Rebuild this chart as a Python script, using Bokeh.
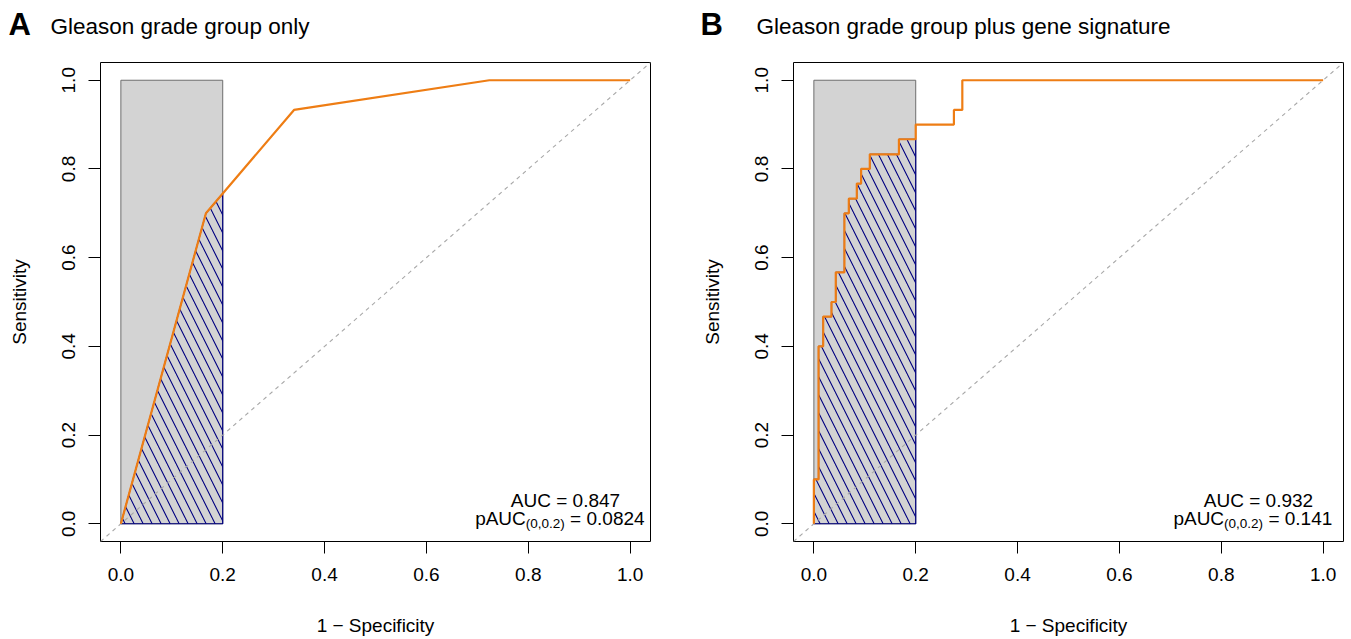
import numpy as np
from bokeh.plotting import figure
from bokeh.layouts import row, column
from bokeh.models import Label, FixedTicker, PrintfTickFormatter, Range1d
from bokeh.core.properties import value
from bokeh.embed import file_html
from bokeh.resources import INLINE

# ---------------- data ----------------
# Panel A: Gleason grade group only (ROC vertices: 1 - specificity, sensitivity)
fpr_a = [0.0, 0.167, 0.340, 0.7235, 1.0]
tpr_a = [0.0, 0.700, 0.933, 1.000, 1.0]

# Panel B: Gleason grade group plus gene signature (ROC vertices)
fpr_b = [0.0, 0.0, 0.0092, 0.0092, 0.0183, 0.0183, 0.0346, 0.0346, 0.043, 0.043,
         0.060, 0.060, 0.0686, 0.0686, 0.0843, 0.0843, 0.0928, 0.0928, 0.1098, 0.1098,
         0.167, 0.167, 0.2, 0.2, 0.275, 0.275, 0.2915, 0.2915, 1.0]
tpr_b = [0.0, 0.1, 0.1, 0.4, 0.4, 0.467, 0.467, 0.5, 0.5, 0.567,
         0.567, 0.7, 0.7, 0.733, 0.733, 0.767, 0.767, 0.8, 0.8, 0.833,
         0.833, 0.867, 0.867, 0.9, 0.9, 0.933, 0.933, 1.0, 1.0]

panel_letters = ["A", "B"]
panel_titles = ["Gleason grade group only", "Gleason grade group plus gene signature"]
auc_values = ["0.847", "0.932"]
pauc_values = ["0.0824", "0.141"]
pauc_limit = 0.2
tick_values = [0.0, 0.2, 0.4, 0.6, 0.8, 1.0]
tick_labels = ["0.0", "0.2", "0.4", "0.6", "0.8", "1.0"]

# ---------------- styling ----------------
FONT = "Liberation Sans"
ORANGE = "#EE7D14"
NAVY = "#000080"
GREY_FILL = "#D3D3D3"
GREY_LINE = "#6E6E6E"
DIAG = "#A8A8A8"
LO, HI = -0.04, 1.04
HEADER_H = 50
TOTAL_W = 1350

# Arial/Liberation Sans advance widths (per em)
ADV = {'p': .556, 'A': .667, 'U': .722, 'C': .722, '(': .333, ')': .333, ',': .278,
       '.': .278, ' ': .278, '=': .584}
def text_width(s, size):
    return sum(ADV.get(c, .556) for c in s) * size


def partial_polygon(fx, ty, xmax):
    xs, ys = [], []
    for i, (x, y) in enumerate(zip(fx, ty)):
        if x < xmax:
            xs.append(x); ys.append(y)
        else:
            if x == xmax:
                xs.append(x); ys.append(y)
            else:
                x0, y0 = fx[i - 1], ty[i - 1]
                xs.append(xmax); ys.append(y0 + (y - y0) * (xmax - x0) / (x - x0))
            break
    xs += [xmax, 0.0]
    ys += [0.0, 0.0]
    return xs, ys


def make_panel(fx, ty, auc, pauc, width, bl, br):
    p = figure(width=width, height=638 - HEADER_H, output_backend="svg",
               toolbar_location=None,
               x_range=Range1d(LO, HI), y_range=Range1d(LO, HI),
               min_border_left=bl, min_border_right=br,
               min_border_top=62 - HEADER_H, min_border_bottom=96)
    p.grid.visible = False
    p.outline_line_color = "black"
    p.outline_line_width = 1
    p.background_fill_color = "white"
    p.border_fill_color = "white"

    for ax in (p.xaxis[0], p.yaxis[0]):
        ax.ticker = FixedTicker(ticks=tick_values)
        ax.formatter = PrintfTickFormatter(format="%.1f")
        ax.axis_line_color = None
        ax.major_tick_line_color = "black"
        ax.major_tick_in = 0
        ax.major_tick_out = 12
        ax.minor_tick_line_color = None
        ax.major_label_text_font = FONT
        ax.major_label_text_font_size = "19px"
        ax.major_label_text_color = "black"
        ax.axis_label_text_font = FONT
        ax.axis_label_text_font_size = "19px"
        ax.axis_label_text_font_style = "normal"
        ax.axis_label_text_color = "black"
    p.xaxis.axis_label = "1 \u2212 Specificity"
    p.yaxis.axis_label = "Sensitivity"
    p.xaxis.major_label_standoff = 14
    p.xaxis.axis_label_standoff = 31
    p.yaxis.major_label_standoff = 13
    p.yaxis.major_label_orientation = "vertical"
    p.yaxis.axis_label_standoff = 30

    # max partial AUC box
    p.quad(left=0, right=pauc_limit, bottom=0, top=1, fill_color=GREY_FILL,
           line_color=GREY_LINE, line_width=1)
    # hatched partial AUC polygon
    px, py = partial_polygon(fx, ty, pauc_limit)
    p.patch(px, py, fill_color=None, fill_alpha=0, hatch_pattern="left_diagonal_line",
            hatch_color=NAVY, hatch_scale=18, hatch_weight=1.1, line_color=NAVY,
            line_width=1.2)
    # identity line
    p.line([LO, HI], [LO, HI], line_color=DIAG, line_width=1.1, line_dash="4 4")
    # ROC curve
    p.line(fx, ty, line_color=ORANGE, line_width=2.2)

    # AUC annotations
    p.add_layout(Label(x=0.873, y=0.0517, text="AUC = " + auc, text_font=FONT,
                       text_font_size="19px", text_align="center",
                       text_baseline="middle", text_color="black"))
    s1, s2, s3 = "pAUC", "(0,0.2)", "= " + pauc
    sp = text_width(" ", 19)
    w1, w2, w3 = text_width(s1, 19), text_width(s2, 13.5), text_width(s3, 19)
    total = w1 + w2 + sp + w3
    cx, cy = 0.862, 0.0112
    for s, size, dx, dy in ((s1, 19, -total / 2, 0),
                            (s2, 13.5, -total / 2 + w1, -5),
                            (s3, 19, -total / 2 + w1 + w2 + sp, 0)):
        p.add_layout(Label(x=cx, y=cy, x_offset=dx, y_offset=dy, text=s,
                           text_font=FONT, text_font_size=f"{size}px",
                           text_align="left", text_baseline="middle",
                           text_color="black"))
    return p


# header with panel letters and titles (page-pixel data space)
header = figure(width=TOTAL_W, height=HEADER_H, output_backend="svg",
                toolbar_location=None, x_range=Range1d(0, TOTAL_W),
                y_range=Range1d(0, HEADER_H), x_axis_location=None,
                y_axis_location=None, min_border=0, min_border_left=0,
                min_border_right=0, min_border_top=0, min_border_bottom=0)
header.grid.visible = False
header.outline_line_color = None
header.text(x=[8, 700], y=[HEADER_H - 24, HEADER_H - 24], text=panel_letters,
            text_font=value(FONT), text_font_size="31px", text_font_style="bold",
            text_align="left", text_baseline="middle", text_color="black")
header.text(x=[50, 756], y=[HEADER_H - 26, HEADER_H - 26], text=panel_titles,
            text_font=value(FONT), text_font_size="22.5px",
            text_align="left", text_baseline="middle", text_color="black")

pa = make_panel(fpr_a, tpr_a, auc_values[0], pauc_values[0], 695, 100, 45)
pb = make_panel(fpr_b, tpr_b, auc_values[1], pauc_values[1], 655, 98, 7)

layout = column(header, row(pa, pb))
open("out.html", "w").write(file_html(layout, INLINE))
